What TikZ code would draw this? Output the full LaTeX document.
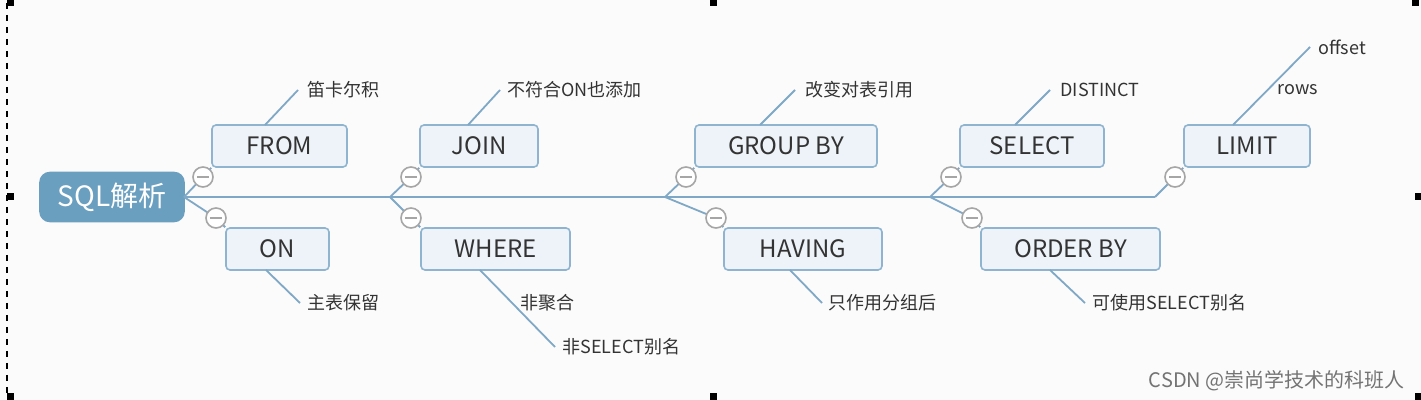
\documentclass[tikz,border=0pt]{standalone}
\usepackage{fontspec}
\setmainfont{Noto Sans CJK SC}
\begin{document}
\begin{tikzpicture}[x=0.5pt,y=-0.5pt,
  box/.style={draw=boxline,fill=boxfill,rounded corners=2pt,line width=0.8pt,font=\fontsize{12}{12}\selectfont,text=black!80,inner sep=0pt},
  br/.style={draw=linec,line width=0.9pt},
  leaf/.style={anchor=west,font=\fontsize{9}{9}\selectfont,text=black!80,inner sep=0pt},
  mc/.style={circle,draw=gray!70,fill=white,line width=0.8pt,minimum size=10pt,inner sep=0pt},
  hd/.style={fill=black,minimum size=3.5pt,inner sep=0pt}]
\definecolor{boxline}{HTML}{8FB4CF}
\definecolor{boxfill}{HTML}{EDF3F8}
\definecolor{linec}{HTML}{7FA8C6}
\definecolor{rootc}{HTML}{6A9FC0}
\fill[white!97!gray] (0,0) rectangle (1421,400);
\useasboundingbox (0,0) rectangle (1421,400);
\draw[dashed,line width=0.6pt] (7,3) -- (7,397);
\foreach \p [count=\i] in {(10,3),(713,3),(1415,3),(10,197),(1418,197),(10,397),(713,397),(1418,397)} \node[hd] (h\i) at \p {};
% boxes
\node[box,minimum width=72pt,minimum height=24.5pt,fill=rootc,draw=rootc,rounded corners=5pt,text=white,font=\fontsize{14}{14}\selectfont] (root) at (112,197) {SQL解析};
\node[box,minimum width=67.5pt,minimum height=21pt] (from) at (279.5,146) {FROM};
\node[box,minimum width=51.5pt,minimum height=21pt] (on) at (277.5,249) {ON};
\node[box,minimum width=59pt,minimum height=21pt] (join) at (479,146) {JOIN};
\node[box,minimum width=74.5pt,minimum height=21pt] (where) at (495.5,249) {WHERE};
\node[box,minimum width=91pt,minimum height=21pt] (group) at (786,146) {GROUP BY};
\node[box,minimum width=79pt,minimum height=21pt] (having) at (803,249) {HAVING};
\node[box,minimum width=72pt,minimum height=21pt] (select) at (1032,146) {SELECT};
\node[box,minimum width=89.5pt,minimum height=21pt] (order) at (1070.5,249) {ORDER BY};
\node[box,minimum width=63pt,minimum height=21pt] (limit) at (1247,146) {LIMIT};
% spine
\coordinate (s0) at (184,197);
\coordinate (b1) at (390,197);
\coordinate (b2) at (665,197);
\coordinate (b3) at (930,197);
\coordinate (b4) at (1155,197);
\draw[br] (s0) -- (b4);
\draw[br] (s0) -- (203,177) -- (from.south west);
\draw[br] (s0) -- (216,218) -- (on.north west);
\draw[br] (b1) -- (411,177) -- (join.south west);
\draw[br] (b1) -- (411,218) -- (where.north west);
\draw[br] (b2) -- (686,177) -- (group.south west);
\draw[br] (b2) -- (716,218) -- (having.north west);
\draw[br] (b3) -- (951,177) -- (select.south west);
\draw[br] (b3) -- (972,218) -- (order.north west);
\draw[br] (b4) -- (1175,177) -- (limit.south west);
\foreach \p [count=\i] in {(203,177),(216,218),(411,177),(411,218),(686,177),(716,218),(951,177),(972,218),(1175,177)}
  \node[mc] (m\i) at \p {\tikz[x=1pt,y=1pt]\draw[gray!70,line width=0.7pt] (-3,0)--(3,0);};
% leaves
\node[leaf] (l1) at (307,90) {笛卡尔积};
\node[leaf] (l2) at (507,90) {不符合ON也添加};
\node[leaf] (l3) at (805,90) {改变对表引用};
\node[leaf] (l4) at (1060,90) {DISTINCT};
\node[leaf] (l5) at (1318,47) {offset};
\node[leaf] (l6) at (1277,90) {rows};
\node[leaf] (l7) at (307,303) {主表保留};
\node[leaf] (l8) at (520,303) {非聚合};
\node[leaf] (l9) at (562,347) {非SELECT别名};
\node[leaf] (l10) at (828,303) {只作用分组后};
\node[leaf] (l11) at (1092,303) {可使用SELECT别名};
\draw[br] (265,125) -- (298,90);
\draw[br] (468,125) -- (500,90);
\draw[br] (760,125) -- (795,90);
\draw[br] (1015,125) -- (1050,90);
\draw[br] (1233,125) -- (1310,47);
\draw[br] (266,270) -- (300,303);
\draw[br] (480,270) -- (555,347);
\draw[br] (790,270) -- (822,303);
\draw[br] (1050,270) -- (1085,303);
\node[anchor=east,font=\fontsize{10}{10}\selectfont,text=black!55,inner sep=0pt] (wm) at (1405,381) {CSDN @崇尚学技术的科班人};
\end{tikzpicture}
\end{document}
